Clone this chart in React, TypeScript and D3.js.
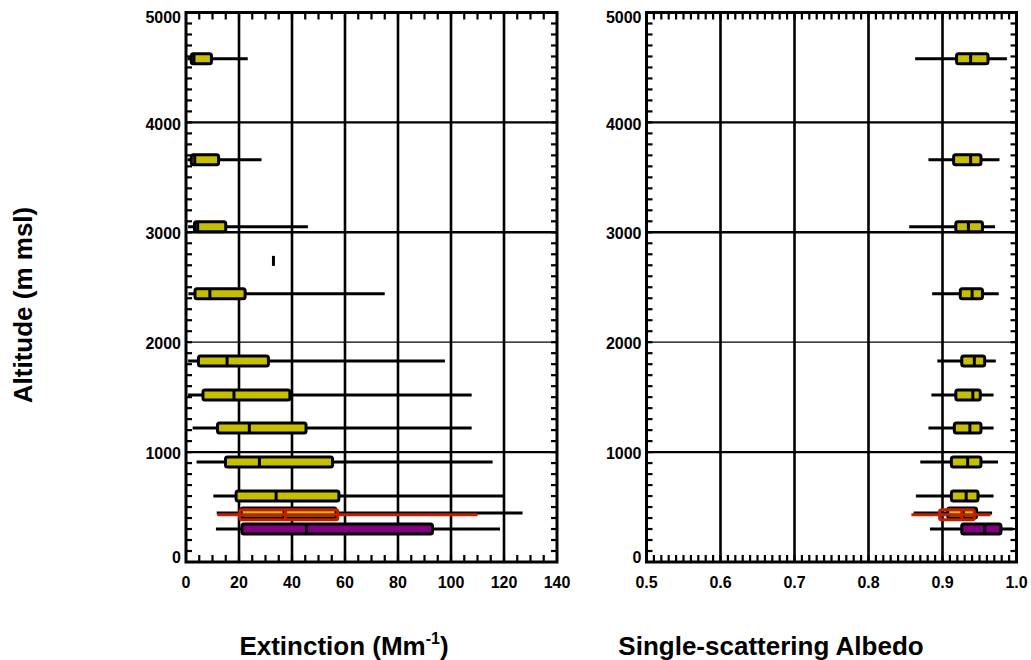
import React, { useEffect, useRef } from "react"
import * as d3 from "d3"

// altitude of each yellow profile level (m msl)
const altYellow = [4580, 3660, 3050, 2440, 1830, 1520, 1220, 910, 600, 445]
// extinction box stats (Mm-1)
const extMin = [0.6, 0.6, 0.8, 0.9, 0.8, 0.8, 2.5, 4, 10.3, 11.6]
const extQ1 = [2, 2, 3.2, 3.4, 4.7, 6.4, 11.9, 14.9, 18.9, 20.8]
const extMed = [3, 3.3, 4.4, 9, 15.5, 18.1, 23.9, 27.7, 34, 37]
const extQ3 = [9.6, 12.3, 15, 22.3, 31.1, 39.2, 45.3, 55.3, 57.7, 56.6]
const extMax = [23.3, 28.5, 46, 75, 97.7, 107.8, 107.8, 115.7, 120, 127]
// single-scattering albedo box stats
const ssaMin = [0.863, 0.881, 0.855, 0.886, 0.893, 0.885, 0.881, 0.87, 0.864, 0.861]
const ssaQ1 = [0.919, 0.915, 0.918, 0.924, 0.926, 0.918, 0.916, 0.912, 0.912, 0.907]
const ssaMed = [0.938, 0.938, 0.935, 0.94, 0.943, 0.941, 0.937, 0.934, 0.932, 0.928]
const ssaQ3 = [0.9615, 0.952, 0.954, 0.954, 0.957, 0.951, 0.952, 0.952, 0.948, 0.946]
const ssaMax = [0.987, 0.977, 0.971, 0.976, 0.972, 0.969, 0.969, 0.975, 0.969, 0.967]

// red (outline) profile
const altRed = [430]
const extRed = [[11.8, 20.3, 37.6, 57.3, 110]]
const ssaRed = [[0.858, 0.896, 0.926, 0.943, 0.965]]

// purple profile
const altPurple = [300]
const extPurple = [[11.3, 21.1, 45.5, 93, 118.5]]
const ssaPurple = [[0.883, 0.926, 0.957, 0.979, 0.995]]

// lone sample in the extinction panel
const singleAlt = [2740]
const singleExt = [33]

const yTicks = [0, 1000, 2000, 3000, 4000, 5000]
const extTicks = [0, 20, 40, 60, 80, 100, 120, 140]
const ssaTicks = [0.5, 0.6, 0.7, 0.8, 0.9, 1.0]

const FONT = "'Liberation Sans', Arial, Helvetica, sans-serif"

const App = () => {
	const ref = useRef(null)

	useEffect(() => {
		const svg = d3.select(ref.current)
		svg.selectAll("*").remove()

		const y = d3.scaleLinear().domain([0, 5000]).range([562, 12.5])
		const xExt = d3.scaleLinear().domain([0, 140]).range([186, 557])
		const xSsa = d3.scaleLinear().domain([0.5, 1.0]).range([646.5, 1016.5])

		const yellowExt = altYellow.map((a, i) => ({
			alt: a,
			s: [extMin[i], extQ1[i], extMed[i], extQ3[i], extMax[i]],
		}))
		const yellowSsa = altYellow.map((a, i) => ({
			alt: a,
			s: [ssaMin[i], ssaQ1[i], ssaMed[i], ssaQ3[i], ssaMax[i]],
		}))

		const drawPanel = (x, xTicks, minorStep, fmt, boxes) => {
			const g = svg.append("g")
			const [x0, x1] = x.range()
			const [yb, yt] = y.range()

			// grid lines
			xTicks.slice(1, -1).forEach(t => {
				g.append("line")
					.attr("x1", x(t)).attr("x2", x(t))
					.attr("y1", yt).attr("y2", yb)
					.attr("stroke", "#000").attr("stroke-width", 2.6)
			})
			yTicks.slice(1, -1).forEach(t => {
				g.append("line")
					.attr("x1", x0).attr("x2", x1)
					.attr("y1", y(t)).attr("y2", y(t))
					.attr("stroke", "#000").attr("stroke-width", t === 2000 ? 1.3 : 2.4)
			})

			// minor ticks
			const [d0, d1] = x.domain()
			const n = Math.round((d1 - d0) / minorStep)
			d3.range(1, n).forEach(k => {
				const v = d0 + k * minorStep
				const px = x(v)
				g.append("line").attr("x1", px).attr("x2", px)
					.attr("y1", yb).attr("y2", yb - 7)
					.attr("stroke", "#000").attr("stroke-width", 2.2)
				g.append("line").attr("x1", px).attr("x2", px)
					.attr("y1", yt).attr("y2", yt + 7)
					.attr("stroke", "#000").attr("stroke-width", 2.2)
			})
			d3.range(100, 5000, 100).forEach(v => {
				g.append("line").attr("x1", x0).attr("x2", x0 + 6)
					.attr("y1", y(v)).attr("y2", y(v))
					.attr("stroke", "#000").attr("stroke-width", 2.2)
				g.append("line").attr("x1", x1).attr("x2", x1 - 6)
					.attr("y1", y(v)).attr("y2", y(v))
					.attr("stroke", "#000").attr("stroke-width", 2.2)
			})

			// boxes
			boxes.forEach(b => {
				const cy = y(b.alt)
				const [mn, q1, md, q3, mx] = b.s
				g.append("line")
					.attr("x1", x(mn)).attr("x2", x(mx))
					.attr("y1", cy).attr("y2", cy)
					.attr("stroke", b.stroke).attr("stroke-width", 3)
				g.append("rect")
					.attr("x", x(q1)).attr("y", cy - 5)
					.attr("width", x(q3) - x(q1)).attr("height", 10)
					.attr("rx", 2)
					.attr("fill", b.fill)
					.attr("stroke", b.stroke).attr("stroke-width", 3)
				g.append("line")
					.attr("x1", x(md)).attr("x2", x(md))
					.attr("y1", cy - 5).attr("y2", cy + 5)
					.attr("stroke", b.stroke).attr("stroke-width", 3)
			})

			// frame
			g.append("rect")
				.attr("x", x0).attr("y", yt)
				.attr("width", x1 - x0).attr("height", yb - yt)
				.attr("fill", "none").attr("stroke", "#000").attr("stroke-width", 3)

			// tick labels
			xTicks.forEach(t => {
				g.append("text")
					.attr("x", x(t)).attr("y", 588)
					.attr("text-anchor", "middle")
					.style("font-family", FONT).style("font-weight", "bold")
					.style("font-size", "16px")
					.text(fmt(t))
			})
			yTicks.forEach(t => {
				const nudge = t === 0 ? -5 : t === 5000 ? 5 : 1.5
				g.append("text")
					.attr("x", x0 - 5).attr("y", y(t) + nudge)
					.attr("dy", "0.35em")
					.attr("text-anchor", "end")
					.style("font-family", FONT).style("font-weight", "bold")
					.style("font-size", "16px")
					.text(t)
			})
		}

		const YELLOW = "#c6be00"
		const PURPLE = "#800080"
		const RED = "#c42000"

		drawPanel(xExt, extTicks, 5, d3.format("d"), [
			...singleAlt.map((a, i) => ({
				alt: a,
				s: [singleExt[i], singleExt[i], singleExt[i], singleExt[i], singleExt[i]],
				fill: "#000",
				stroke: "#000",
			})),
			...altPurple.map((a, i) => ({ alt: a, s: extPurple[i], fill: PURPLE, stroke: "#000" })),
			...yellowExt.map(d => ({ ...d, fill: YELLOW, stroke: "#000" })),
			...altRed.map((a, i) => ({ alt: a, s: extRed[i], fill: "none", stroke: RED })),
		])

		drawPanel(xSsa, ssaTicks, 0.01, d3.format(".1f"), [
			...altPurple.map((a, i) => ({ alt: a, s: ssaPurple[i], fill: PURPLE, stroke: "#000" })),
			...yellowSsa.map(d => ({ ...d, fill: YELLOW, stroke: "#000" })),
			...altRed.map((a, i) => ({ alt: a, s: ssaRed[i], fill: "none", stroke: RED })),
		])

		// axis titles
		svg.append("text")
			.attr("transform", "translate(32, 305) rotate(-90)")
			.attr("text-anchor", "middle")
			.style("font-family", FONT).style("font-weight", "bold")
			.style("font-size", "26px")
			.text("Altitude (m msl)")

		const ext = svg.append("text")
			.attr("x", 344).attr("y", 655)
			.attr("text-anchor", "middle")
			.style("font-family", FONT).style("font-weight", "bold")
			.style("font-size", "26px")
		ext.append("tspan").text("Extinction (Mm")
		ext.append("tspan").attr("dy", -11).style("font-size", "16px").text("-1")
		ext.append("tspan").attr("dy", 11).text(")")

		svg.append("text")
			.attr("x", 771).attr("y", 655)
			.attr("text-anchor", "middle")
			.style("font-family", FONT).style("font-weight", "bold")
			.style("font-size", "26px")
			.text("Single-scattering Albedo")
	}, [])

	return (
		<svg
			ref={ref}
			width={1031}
			height={660}
			style={{ position: "absolute", left: 0, top: 0, background: "#fff" }}
		></svg>
	)
}

export default App
